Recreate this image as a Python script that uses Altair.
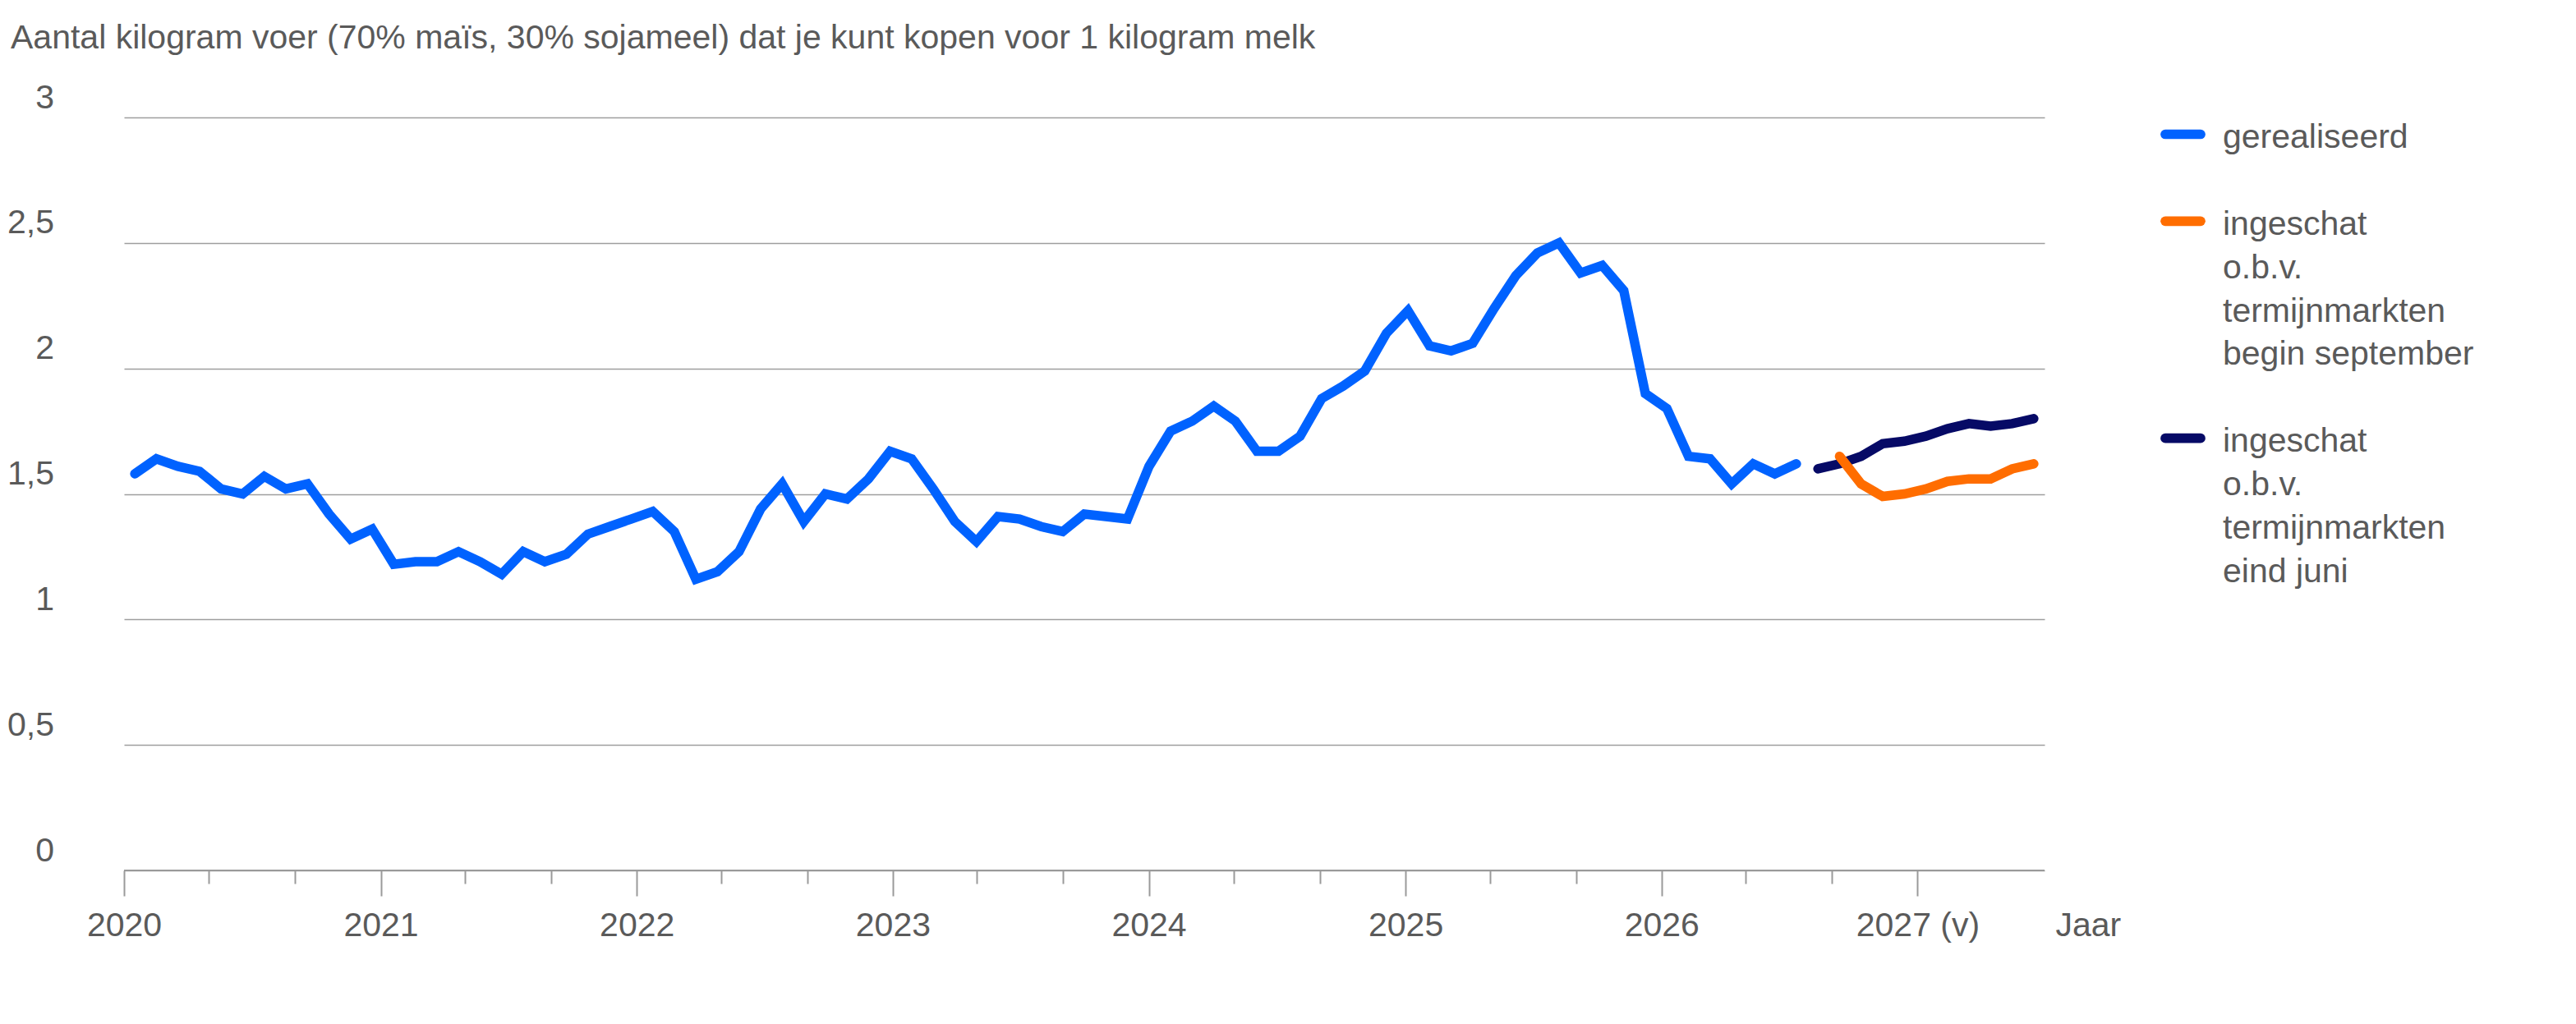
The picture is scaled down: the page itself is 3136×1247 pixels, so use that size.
import json
import pandas as pd
import altair as alt

# ---------------- data ----------------
# 89 evenly spaced monthly slots, January 2020 .. May 2027
maanden = [f"{j}-{m:02d}" for j in range(2020, 2028) for m in range(1, 13)][:89]

gerealiseerd = [
    1.58, 1.64, 1.61, 1.59, 1.52, 1.50, 1.57, 1.52, 1.54, 1.42,
    1.32, 1.36, 1.22, 1.23, 1.23, 1.27, 1.23, 1.18, 1.27, 1.23,
    1.26, 1.34, 1.37, 1.40, 1.43, 1.35, 1.16, 1.19, 1.27, 1.44,
    1.54, 1.39, 1.50, 1.48, 1.56, 1.67, 1.64, 1.52, 1.39, 1.31,
    1.41, 1.40, 1.37, 1.35, 1.42, 1.41, 1.40, 1.61, 1.75, 1.79,
    1.85, 1.79, 1.67, 1.67, 1.73, 1.88, 1.93, 1.99, 2.14, 2.23,
    2.09, 2.07, 2.10, 2.24, 2.37, 2.46, 2.50, 2.38, 2.41, 2.31,
    1.90, 1.84, 1.65, 1.64, 1.54, 1.62, 1.58, 1.62,
]
eind_juni = [1.60, 1.62, 1.65, 1.70, 1.71, 1.73, 1.76, 1.78, 1.77, 1.78, 1.80]
begin_september = [1.65, 1.54, 1.49, 1.50, 1.52, 1.55, 1.56, 1.56, 1.60, 1.62]

reeksen = [
    "gerealiseerd",
    "ingeschat o.b.v. termijnmarkten begin september",
    "ingeschat o.b.v. termijnmarkten eind juni",
]
kleuren = ["#0062ff", "#ff6d00", "#060a66"]

legenda_regels = [
    ["gerealiseerd"],
    ["ingeschat", "o.b.v.", "termijnmarkten", "begin september"],
    ["ingeschat", "o.b.v.", "termijnmarkten", "eind juni"],
]

jaar_labels = ["2020", "2021", "2022", "2023", "2024", "2025", "2026", "2027 (v)"]
as_ticks = [(j, m) for j in range(2020, 2028) for m in (1, 5, 9) if (j, m) <= (2027, 1)]
y_ticks = [0, 0.5, 1, 1.5, 2, 2.5, 3]

titel = "Aantal kilogram voer (70% maïs, 30% sojameel) dat je kunt kopen voor 1 kilogram melk"

# ---------------- tables ----------------
rows = []
for i, v in enumerate(gerealiseerd):
    rows.append({"maand": maanden[i], "waarde": v, "reeks": reeksen[0]})
start_juni = len(gerealiseerd)
for i, v in enumerate(eind_juni):
    rows.append({"maand": maanden[start_juni + i], "waarde": v, "reeks": reeksen[2]})
start_sept = start_juni + 1
for i, v in enumerate(begin_september):
    rows.append({"maand": maanden[start_sept + i], "waarde": v, "reeks": reeksen[1]})
df = pd.DataFrame(rows)

as_df = pd.DataFrame({"begin": ["2020/01/01"], "eind": ["2027/07/01"], "nul": [0]})

leg_rows = []
rij = 0
for naam, regels in zip(reeksen, legenda_regels):
    leg_rows.append({"reeks": naam, "rij": rij, "tekst": "\n".join(regels)})
    rij += len(regels) + 1
leg_df = pd.DataFrame(leg_rows)

# ---------------- style ----------------
FONT = "Liberation Sans"
FS = 41
TXT = "#5a5a5a"
GRID = "#9e9e9e"
AXIS = "#9a9a9a"
W, H = 2338, 917

kleur = alt.Color("reeks:N", scale=alt.Scale(domain=reeksen, range=kleuren), legend=None)

y_as = alt.Axis(
    values=y_ticks, title=None, domain=False, ticks=False, grid=True,
    gridColor=GRID, gridWidth=1.5,
    labelAlign="right", labelBaseline="alphabetic", labelPadding=85.5, labelOffset=-12,
    labelFontSize=FS, labelFont=FONT, labelColor=TXT,
    labelExpr="replace(format(datum.value, '.1~f'), '.', ',')",
)
y_schaal = alt.Scale(domain=[0, 3], nice=False)

lijnen = alt.Chart(df).mark_line(strokeWidth=11.5, strokeCap="round").encode(
    x=alt.X("maand:O", scale=alt.Scale(type="point", domain=maanden, padding=0.5), axis=None),
    y=alt.Y("waarde:Q", scale=y_schaal, axis=y_as),
    color=kleur,
)

jaar_expr = "month(datum.value) == 0 ? " + json.dumps(jaar_labels) + "[year(datum.value) - 2020] : ''"

as_laag = alt.Chart(as_df).mark_rule(color=AXIS, strokeWidth=2).encode(
    x=alt.X(
        "begin:T",
        scale=alt.Scale(domain=[alt.DateTime(year=2020, month=1, date=1),
                                alt.DateTime(year=2027, month=7, date=1)]),
        axis=alt.Axis(
            values=[alt.DateTime(year=j, month=m, date=1) for j, m in as_ticks],
            orient="bottom", domain=False, grid=False, ticks=True,
            tickSize={"condition": {"test": "month(datum.value) == 0", "value": 31}, "value": 16},
            tickColor=AXIS, tickWidth=2,
            labelExpr=jaar_expr, labelPadding=48, labelBaseline="alphabetic", labelAlign="center",
            labelFontSize=FS, labelFont=FONT, labelColor=TXT, labelOverlap=False, labelFlush=False,
            title="Jaar", titleX=2351, titleY=79, titleAlign="left", titleBaseline="alphabetic",
            titleAngle=0, titleFontSize=FS, titleFont=FONT, titleColor=TXT, titleFontWeight="normal",
        ),
    ),
    x2="eind:T",
    y=alt.Y("nul:Q", scale=y_schaal, axis=y_as),
)

hoofd = alt.layer(lijnen, as_laag).resolve_scale(x="independent").properties(width=W, height=H)

leg_y = alt.Y("rij:Q", scale=alt.Scale(domain=[-0.70, 16.64], reverse=True), axis=None)

symbolen = alt.Chart(leg_df).mark_point(
    shape="stroke", size=1849, strokeWidth=11.7, strokeCap="round", filled=False, opacity=1, yOffset=-16.5
).encode(x=alt.value(68.5), y=leg_y, color=kleur)

teksten = alt.Chart(leg_df).mark_text(
    align="left", baseline="alphabetic", font=FONT, fontSize=FS, color=TXT, lineBreak="\n", lineHeight=52.9
).encode(x=alt.value(117), y=leg_y, text="tekst:N")

legenda = alt.layer(symbolen, teksten).properties(width=460, height=H)

chart = alt.hconcat(hoofd, legenda, spacing=100, bounds="flush").properties(
    title=alt.TitleParams(
        text=titel, anchor="start", frame="group", fontSize=FS, font=FONT, color=TXT,
        fontWeight="normal", baseline="alphabetic", dx=-138, offset=-2,
    ),
    padding={"top": 18, "left": 0, "right": 10, "bottom": 10},
).configure(font=FONT).configure_view(stroke=None)

chart.save("out.html", embed_options={"renderer": "svg", "actions": False})
